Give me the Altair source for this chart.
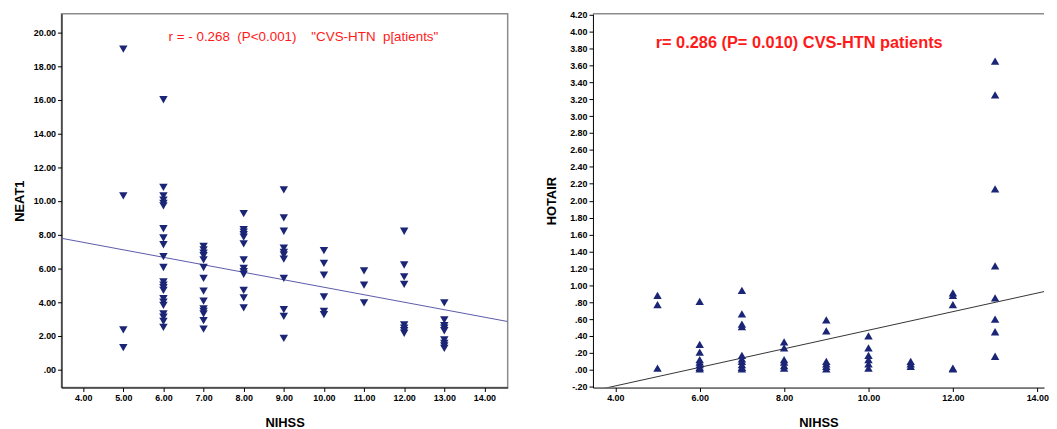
import altair as alt
import pandas as pd

# ---- NEAT1 values by NIHSS score (left panel) ----
neat1_n5 = [19.0, 10.3, 2.35, 1.3]
neat1_n6 = [16.0, 10.8, 10.3, 10.05, 9.85, 9.7, 8.35, 7.8, 7.4, 6.7, 6.05, 5.2, 5.0,
            4.85, 4.7, 4.2, 4.0, 3.8, 3.3, 3.1, 2.85, 2.5]
neat1_n7 = [7.3, 7.1, 6.9, 6.75, 6.5, 6.05, 5.4, 4.65, 4.05, 3.6, 3.45, 3.3, 2.9, 2.4]
neat1_n8 = [9.25, 8.3, 8.15, 8.0, 7.85, 7.45, 6.5, 6.0, 5.8, 5.65, 4.7, 4.25, 3.65]
neat1_n9 = [10.65, 9.0, 8.2, 7.2, 6.95, 6.8, 6.55, 5.4, 3.55, 3.15, 1.85]
neat1_n10 = [7.05, 6.3, 5.6, 4.3, 3.45, 3.25]
neat1_n11 = [5.85, 5.0, 3.95]
neat1_n12 = [8.2, 6.2, 5.5, 5.05, 2.65, 2.45, 2.3, 2.15]
neat1_n13 = [3.95, 2.95, 2.6, 2.45, 2.3, 1.75, 1.55, 1.4, 1.25]

# ---- HOTAIR values by NIHSS score (right panel) ----
hotair_n5 = [0.88, 0.77, 0.02]
hotair_n6 = [0.81, 0.30, 0.21, 0.12, 0.09, 0.06, 0.03, 0.01]
hotair_n7 = [0.94, 0.66, 0.54, 0.51, 0.17, 0.13, 0.10, 0.06, 0.03, 0.01]
hotair_n8 = [0.33, 0.26, 0.12, 0.09, 0.05, 0.02]
hotair_n9 = [0.59, 0.46, 0.10, 0.07, 0.04, 0.01]
hotair_n10 = [0.40, 0.26, 0.17, 0.12, 0.07, 0.02]
hotair_n11 = [0.10, 0.07, 0.04]
hotair_n12 = [0.91, 0.88, 0.77, 0.02, 0.01]
hotair_n13 = [3.65, 3.25, 2.14, 1.23, 0.85, 0.60, 0.45, 0.16]

# fitted lines (intercept, slope)
left_fit = [9.32, -0.444]
right_fit = [-0.63, 0.1098]

left_x_domain = [3.46, 14.58]
left_y_domain = [-1.07, 21.1]
right_x_domain = [3.47, 14.16]
right_y_domain = [-0.21, 4.21]

left_x_ticks = [4, 5, 6, 7, 8, 9, 10, 11, 12, 13, 14]
left_y_ticks = [0, 2, 4, 6, 8, 10, 12, 14, 16, 18, 20]
right_x_ticks = [4, 6, 8, 10, 12, 14]
right_y_ticks = [-0.2, 0, 0.2, 0.4, 0.6, 0.8, 1.0, 1.2, 1.4, 1.6, 1.8, 2.0, 2.2, 2.4,
                 2.6, 2.8, 3.0, 3.2, 3.4, 3.6, 3.8, 4.0, 4.2]

left_label = "r = - 0.268\u00a0 (P<0.001)\u00a0\u00a0\u00a0 \"CVS-HTN\u00a0 p[atients\""
right_label = "r= 0.286 (P= 0.010) CVS-HTN patients"


def build(groups, name):
    rows = []
    for n, vals in groups:
        for v in vals:
            rows.append({"NIHSS": n, name: v})
    return pd.DataFrame(rows)


left_df = build([(5, neat1_n5), (6, neat1_n6), (7, neat1_n7), (8, neat1_n8),
                 (9, neat1_n9), (10, neat1_n10), (11, neat1_n11), (12, neat1_n12),
                 (13, neat1_n13)], "NEAT1")
right_df = build([(5, hotair_n5), (6, hotair_n6), (7, hotair_n7), (8, hotair_n8),
                  (9, hotair_n9), (10, hotair_n10), (11, hotair_n11), (12, hotair_n12),
                  (13, hotair_n13)], "HOTAIR")

left_line = pd.DataFrame({"NIHSS": left_x_domain,
                          "NEAT1": [left_fit[0] + left_fit[1] * x for x in left_x_domain]})
right_line = pd.DataFrame({"NIHSS": right_x_domain,
                           "HOTAIR": [right_fit[0] + right_fit[1] * x for x in right_x_domain]})

lab_expr = ("abs(datum.value) < 0.999 ? (datum.value < 0 ? '-' : '') + "
            "slice(format(abs(datum.value), '.2f'), 1) : format(datum.value, '.2f')")

MARK = "#1b2575"
FRAME = "#8c8c8c"


def axis(values, title_pad):
    return alt.Axis(values=values, labelExpr=lab_expr, grid=False, tickSize=4,
                    labelFont="Liberation Sans", labelFontSize=9, labelFontWeight="bold",
                    labelColor="black", titleFont="Liberation Sans", titleFontSize=13,
                    titleFontWeight="bold", titleColor="black", domainColor="black",
                    tickColor="black", labelPadding=2, titlePadding=title_pad,
                    labelOverlap=False, labelFlush=False)


def panel(df, line_df, yname, xdom, ydom, xt, yt, shape, line_color, label, lx, ly,
          lsize, lweight, width, height, ytp, full_frame):
    xs = alt.Scale(domain=xdom, nice=False, zero=False)
    ys = alt.Scale(domain=ydom, nice=False, zero=False)
    xa = axis(xt, 14)
    ya = axis(yt, ytp)
    pts = alt.Chart(df).mark_point(shape=shape, filled=True, size=72, opacity=1,
                                   color=MARK).encode(
        x=alt.X("NIHSS:Q", scale=xs, axis=xa, title="NIHSS"),
        y=alt.Y(f"{yname}:Q", scale=ys, axis=ya, title=yname))
    ln = alt.Chart(line_df).mark_line(color=line_color, strokeWidth=1, clip=True).encode(
        x=alt.X("NIHSS:Q", scale=xs, axis=xa, title="NIHSS"),
        y=alt.Y(f"{yname}:Q", scale=ys, axis=ya, title=yname))
    txt = alt.Chart(pd.DataFrame({"t": [label]})).mark_text(
        color="#ff1a1a", font="Liberation Sans", fontSize=lsize, fontWeight=lweight,
        align="center", baseline="middle").encode(
        text="t:N", x=alt.value(lx), y=alt.value(ly))
    layers = [ln, pts, txt]
    if full_frame:
        view = alt.ViewBackground(stroke=FRAME, strokeWidth=1.5)
    else:
        view = alt.ViewBackground(stroke="transparent")
        top = alt.Chart(pd.DataFrame({"t": [label]})).mark_rule(
            color=FRAME, strokeWidth=1.5).encode(
            x=alt.value(0), x2=alt.value(width), y=alt.value(0))
        layers.append(top)
    return alt.layer(*layers).properties(width=width, height=height, view=view)


left = panel(left_df, left_line, "NEAT1", left_x_domain, left_y_domain, left_x_ticks,
             left_y_ticks, "triangle-down", "#5a5aa8", left_label, 244, 23, 13.5, "normal",
             450, 377, 7, True)
right = panel(right_df, right_line, "HOTAIR", right_x_domain, right_y_domain,
              right_x_ticks, right_y_ticks, "triangle-up", "#333333", right_label, 208,
              30, 16.5, "bold", 455, 377, 11, False)

chart = alt.hconcat(left, right, spacing=36).properties(
    padding={"left": 4, "top": 0, "right": 0, "bottom": 0},
    background="white")

chart.save("out.html", embed_options={"renderer": "svg", "actions": False})
